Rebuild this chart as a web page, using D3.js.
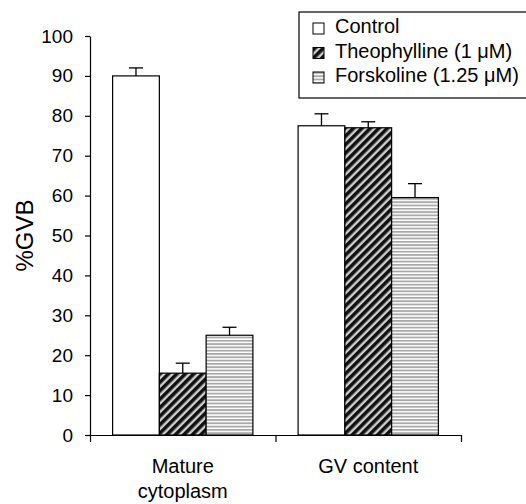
<!DOCTYPE html>
<html>
<head>
<meta charset="utf-8">
<script src="https://cdn.jsdelivr.net/npm/d3@7"></script>
<style>
  body{margin:0;background:#fff;}
  text{font-family:"Liberation Sans", Arial, sans-serif;fill:#000;}
</style>
</head>
<body>
<svg id="chart" width="526" height="504"></svg>
<script>
// data
const categories = [["Mature", "cytoplasm"], ["GV content"]];
const series = ["Control", "Theophylline (1 \u03bcM)", "Forskoline (1.25 \u03bcM)"];
const values = [
  [90, 15.5, 25],   // Mature cytoplasm
  [77.5, 77, 59.5]  // GV content
];
const errors = [
  [2, 2.5, 2],
  [3, 1.5, 3.5]
];
const yTicks = [0,10,20,30,40,50,60,70,80,90,100];

const svg = d3.select('#chart');
const fills = ['#fff', 'url(#diag)', 'url(#horiz)'];

// patterns
const defs = svg.append('defs');
const diag = defs.append('pattern').attr('id','diag')
    .attr('patternUnits','userSpaceOnUse').attr('width',6).attr('height',6)
    .attr('patternTransform','rotate(45)');
diag.append('rect').attr('width',6).attr('height',6).attr('fill','#d0d0d0');
diag.append('rect').attr('width',3.6).attr('height',6).attr('fill','#111');

const horiz = defs.append('pattern').attr('id','horiz')
    .attr('patternUnits','userSpaceOnUse').attr('width',6).attr('height',3.3);
horiz.append('rect').attr('width',6).attr('height',3.3).attr('fill','#fff');
horiz.append('rect').attr('width',6).attr('height',1.8).attr('fill','#a9a9a9');

const plotLeft = 90, plotRight = 461, plotTop = 36, plotBottom = 435;

const y = d3.scaleLinear().domain([0,100]).range([plotBottom, plotTop]);
const x0 = d3.scaleBand().domain(d3.range(categories.length)).range([plotLeft, plotRight]).padding(0);
const x1 = d3.scaleBand().domain(d3.range(series.length))
    .range([22.6, x0.bandwidth() - 22.6]).padding(0);
const xTickScale = d3.scaleLinear().domain([0, categories.length]).range([plotLeft, plotRight]);

// bars
const groups = svg.append('g').selectAll('g').data(values).join('g')
    .attr('transform', (d,i) => `translate(${x0(i)},0)`);

groups.selectAll('rect').data(d => d).join('rect')
    .attr('x', (d,j) => x1(j))
    .attr('y', d => y(d))
    .attr('width', x1.bandwidth())
    .attr('height', d => y(0) - y(d))
    .attr('fill', (d,j) => fills[j])
    .attr('stroke','#000').attr('stroke-width',1.2);

// error bars
groups.each(function(d,i){
  const g = d3.select(this);
  d.forEach((v,j) => {
    const cx = x1(j) + x1.bandwidth()/2;
    const e = v + errors[i][j];
    g.append('line').attr('x1',cx).attr('x2',cx).attr('y1',y(v)).attr('y2',y(e))
      .attr('stroke','#000').attr('stroke-width',1.3);
    g.append('line').attr('x1',cx-7).attr('x2',cx+7).attr('y1',y(e)).attr('y2',y(e))
      .attr('stroke','#000').attr('stroke-width',1.3);
  });
});

// y axis
const yAxis = svg.append('g').attr('transform',`translate(${plotLeft},0)`)
    .call(d3.axisLeft(y).tickValues(yTicks).tickSize(5).tickSizeOuter(0).tickPadding(12));
yAxis.select('.domain').attr('stroke','#000').attr('stroke-width',1.2);
yAxis.selectAll('.tick line').attr('stroke','#000').attr('stroke-width',1.2);
yAxis.selectAll('text').style('font-size','19px').attr('fill','#000');

// x axis (ticks at category boundaries)
const xAxis = svg.append('g').attr('transform',`translate(0,${plotBottom})`)
    .call(d3.axisBottom(xTickScale).ticks(categories.length).tickSize(7).tickSizeOuter(0).tickFormat(''));
xAxis.select('.domain').attr('stroke','#000').attr('stroke-width',1.2);
xAxis.selectAll('.tick line').attr('stroke','#000').attr('stroke-width',1.2);

// category labels
const cat = svg.append('g').selectAll('text').data(categories).join('text')
    .attr('x', (d,i) => x0(i) + x0.bandwidth()/2)
    .attr('y', 473)
    .attr('text-anchor','middle')
    .style('font-size','20px');
cat.selectAll('tspan').data(d => d).join('tspan')
    .attr('x', function(){ return d3.select(this.parentNode).attr('x'); })
    .attr('dy', (d,k) => k === 0 ? 0 : 25)
    .text(d => d);

// y label
svg.append('text')
    .attr('transform', `translate(33,${(plotTop+plotBottom)/2}) rotate(-90)`)
    .attr('text-anchor','middle')
    .style('font-size','24px')
    .text('%GVB');

// legend
const legend = svg.append('g').attr('transform','translate(299,12)');
legend.append('rect').attr('x',0).attr('y',0).attr('width',240).attr('height',86)
    .attr('fill','#fff').attr('stroke','#000').attr('stroke-width',1.2);
const items = legend.selectAll('g.item').data(series).join('g').attr('class','item')
    .attr('transform', (d,i) => `translate(14,${11 + i*24.5})`);
items.append('rect').attr('width',11).attr('height',11)
    .attr('fill', (d,i) => fills[i]).attr('stroke','#000').attr('stroke-width',1);
items.append('text').attr('x',22).attr('y',10).style('font-size','20px').text(d => d);
</script>
</body>
</html>
